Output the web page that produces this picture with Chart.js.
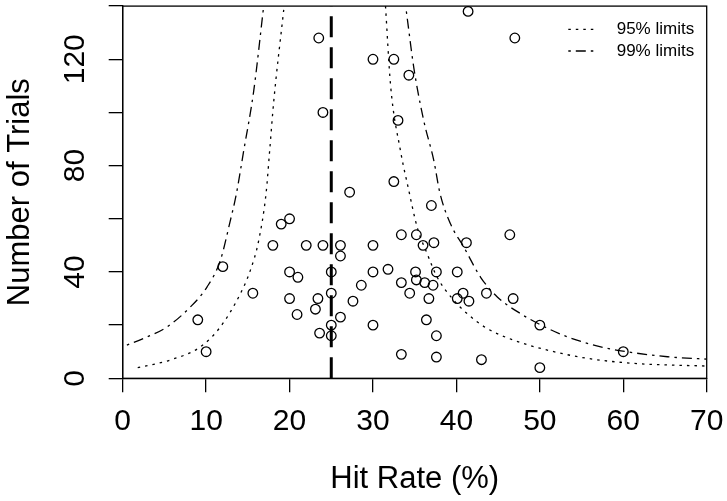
<!DOCTYPE html>
<html lang="en">
<head>
<meta charset="UTF-8">
<title>Hit rate funnel plot</title>
<script src="https://cdn.jsdelivr.net/npm/chart.js"></script>
<style>
  body { margin: 0; background: #fff; }
  #wrap { width: 727px; height: 501px; }
</style>
</head>
<body>
<div id="wrap"><canvas id="funnel" width="727" height="501"></canvas></div>
<script>
// studies: hit rate (%) and number of trials
const hitRate = [23.5, 30, 32.5, 34.3, 24, 33, 32.5, 27.2, 41.4, 47,
                 37, 20, 19, 18, 22, 24, 26.1, 26.1, 30, 33.4,
                 35.2, 36, 37.3, 41.2, 46.4, 12, 20, 21, 25, 30,
                 31.8, 35.1, 37.6, 40.1, 33.4, 35.2, 36.2, 37.2, 28.6, 15.6,
                 20, 23.4, 25, 27.6, 34.4, 36.7, 40.1, 40.8, 41.5, 43.6,
                 46.8, 20.9, 23.1, 26.1, 9, 36.4, 25, 30, 50, 23.6,
                 25, 37.6, 10, 60, 33.4, 37.6, 43, 50];
const trials = [128, 120, 120, 114, 100, 97, 74, 70, 138, 128,
                65, 60, 58, 50, 50, 50, 50, 46, 50, 54,
                54, 50, 51, 51, 54, 42, 40, 38, 40, 40,
                41, 40, 40, 40, 36, 37, 36, 35, 35, 32,
                30, 30, 32, 29, 32, 30, 30, 32, 29, 32,
                30, 24, 26, 23, 22, 22, 20, 20, 20, 17,
                16, 16, 10, 10, 9, 8, 7, 4];

// chance level
const chanceRate = 25;

// control limits
const lower95X = [1.8, 5.7, 9.3, 11.7, 14.1, 15.3, 16.3, 17.2, 17.6, 18.1, 19.3];
const lower95Y = [4, 6.9, 11.8, 19.3, 31.8, 40.6, 51.8, 70, 85, 104, 138.6];
const upper95X = [31.5, 32.1, 33.3, 34.2, 35.3, 36.5, 37.7, 39.7, 41.3, 43.7, 46.9, 50.9, 55.7, 61.3, 70];
const upper95Y = [140, 110.5, 85.5, 72, 56.8, 46.8, 38, 29.3, 24.3, 18.7, 14.3, 10.6, 7.5, 5.6, 4.6];
const lower99X = [0.5, 2.5, 5.3, 8.1, 10.1, 11.7, 12.9, 13.6, 14.5, 15.7, 16.9];
const lower99Y = [12.5, 15, 19.3, 26.8, 34.3, 44.3, 59.3, 69, 85.5, 108, 140];
const upper99X = [34, 34.9, 36.1, 37.3, 38, 39.3, 40.9, 42.9, 44.9, 47.7, 50.1, 53.3, 57.3, 60.2, 65.3, 70];
const upper99Y = [138, 116.7, 96.7, 81.8, 70, 58, 49.3, 38, 30.6, 24.3, 20.1, 15.6, 11.8, 10.1, 8.1, 7.2];

const xTicks = [0, 10, 20, 30, 40, 50, 60, 70];
const yLabelValues = [0, 40, 80, 120];
const yTickLabels = ['0', '40', '80', '120'];
const legendLabels = ['95% limits', '99% limits'];

const dot95 = [2.5, 5];
const dotDash99 = [2.5, 5, 10, 5];
const FONT = '"Liberation Sans", Arial, Helvetica, sans-serif';

function pts(xs, ys) {
    return xs.map((x, i) => ({ x: x, y: ys[i] }));
}

function limitLine(xs, ys, dash) {
    return {
        type: 'line',
        data: pts(xs, ys),
        showLine: true,
        borderColor: '#000',
        borderWidth: 1.3,
        borderDash: dash,
        pointRadius: 0,
        fill: false,
        cubicInterpolationMode: 'monotone'
    };
}

// box, rotated y labels and legend
const framePlugin = {
    id: 'frame',
    afterDraw(chart) {
        const { ctx, chartArea: a, scales } = chart;
        ctx.save();
        ctx.strokeStyle = '#000';
        ctx.lineWidth = 1.3;
        ctx.setLineDash([]);
        ctx.strokeRect(a.left, a.top, a.right - a.left, a.bottom - a.top);

        ctx.fillStyle = '#000';
        ctx.font = '30px ' + FONT;
        ctx.textAlign = 'center';
        ctx.textBaseline = 'middle';
        yLabelValues.forEach((v, i) => {
            const py = scales.y.getPixelForValue(v);
            ctx.save();
            ctx.translate(76, py);
            ctx.rotate(-Math.PI / 2);
            ctx.fillText(yTickLabels[i], 0, 0);
            ctx.restore();
        });

        const dashes = [dot95, dotDash99];
        ctx.font = '17px ' + FONT;
        ctx.textAlign = 'left';
        legendLabels.forEach((lab, i) => {
            const y = a.top + 23.3 + i * 21.6;
            ctx.setLineDash(dashes[i]);
            ctx.beginPath();
            ctx.moveTo(a.right - 138.4, y);
            ctx.lineTo(a.right - 108.4, y);
            ctx.stroke();
            ctx.fillText(lab, a.right - 90, y);
        });
        ctx.restore();
    }
};

const ctx = document.getElementById('funnel').getContext('2d');
new Chart(ctx, {
    type: 'scatter',
    data: {
        datasets: [
            limitLine(lower95X, lower95Y, dot95),
            limitLine(upper95X, upper95Y, dot95),
            limitLine(lower99X, lower99Y, dotDash99),
            limitLine(upper99X, upper99Y, dotDash99),
            {
                type: 'line',
                data: [{ x: chanceRate, y: 0 }, { x: chanceRate, y: 140 }],
                showLine: true,
                borderColor: '#000',
                borderWidth: 3,
                borderDash: [21, 10],
                pointRadius: 0
            },
            {
                data: pts(hitRate, trials),
                pointRadius: 4.8,
                pointHoverRadius: 4.8,
                pointBorderWidth: 1.3,
                pointBorderColor: '#000',
                pointBackgroundColor: 'rgba(0,0,0,0)'
            }
        ]
    },
    options: {
        responsive: false,
        animation: false,
        events: [],
        layout: { padding: { left: 0, top: 3.5, right: 20.3, bottom: 0 } },
        plugins: { legend: { display: false }, tooltip: { enabled: false } },
        scales: {
            x: {
                type: 'linear',
                min: 0,
                max: 70,
                afterBuildTicks: s => { s.ticks = xTicks.map(v => ({ value: v })); },
                afterFit: s => { s.height = 122.7; },
                grid: { display: true, drawOnChartArea: false, tickLength: 14, color: '#000', lineWidth: 1.3 },
                border: { display: true, color: '#000', width: 1.3 },
                // padding 0 so the right edge is not pushed in; line height places the labels
                ticks: { color: '#000', padding: 0, maxRotation: 0, font: { family: FONT, size: 30, lineHeight: 1.96 } },
                title: { display: true, text: 'Hit Rate (%)', color: '#000', padding: { bottom: 6.3 }, font: { family: FONT, size: 31, lineHeight: 1 } }
            },
            y: {
                type: 'linear',
                min: 0,
                max: 140,
                ticks: { display: false, stepSize: 20 },
                afterFit: s => { s.width = 122.7; },
                grid: { display: true, drawOnChartArea: false, tickLength: 14, color: '#000', lineWidth: 1.3 },
                border: { display: true, color: '#000', width: 1.3 },
                title: { display: true, text: 'Number of Trials', color: '#000', padding: { top: 5 }, font: { family: FONT, size: 31, lineHeight: 1 } }
            }
        }
    },
    plugins: [framePlugin]
});
</script>
</body>
</html>
